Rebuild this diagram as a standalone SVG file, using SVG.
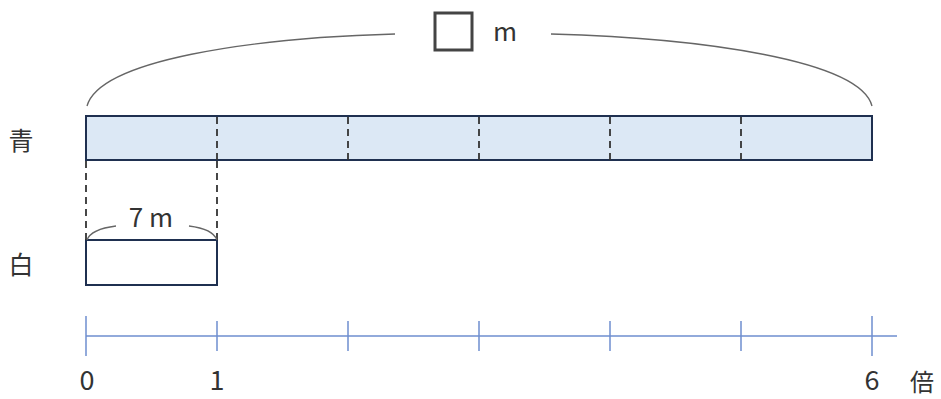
<svg xmlns="http://www.w3.org/2000/svg" width="941" height="399" viewBox="0 0 941 399">
<style>
.t{font-family:"Noto Sans CJK JP","Noto Sans",sans-serif;fill:#333;}
.bar{stroke:#1f3050;stroke-width:2;}
.dash{stroke:#333;stroke-width:1.8;stroke-dasharray:7,5;fill:none;}
.brace{stroke:#666;stroke-width:1.3;fill:none;}
.axis{stroke:#6f8fd0;stroke-width:1.5;fill:none;}
</style>
<rect width="941" height="399" fill="#fff"/>
<g id="blue">
<rect class="bar" x="86" y="116" width="786" height="44" fill="#dce8f5"/>
<text class="t" x="21" y="150" font-size="25" text-anchor="middle">青</text>
</g>
<g id="white">
<rect class="bar" x="86" y="240" width="131" height="45" fill="#fff"/>
<text class="t" x="21" y="274" font-size="25" text-anchor="middle">白</text>
</g>
<g id="connectors">
<path class="dash" d="M217 117V160M348 117V160M479 117V160M610 117V160M741 117V160"/>
<path class="dash" d="M86 161V240M217 161V240"/>
<path class="brace" d="M87 106C100 60 250 38 395 34M551 34C700 38 860 60 872 106"/>
<path class="brace" d="M87 240C90 232 100 228 116 226M189 226C205 228 214 232 217 240"/>
<path class="axis" d="M86 336H897M86 316V356M872 316V356M217 321V351M348 321V351M479 321V351M610 321V351M741 321V351"/>
</g>
<g id="labels">
<rect x="435" y="13" width="37" height="37" fill="none" stroke="#444" stroke-width="3"/>
<text class="t" x="505" y="41" font-size="26" text-anchor="middle">m</text>
<text class="t" x="151" y="227" font-size="26" text-anchor="middle">7 m</text>
<text class="t" x="87" y="390" font-size="27" text-anchor="middle">0</text>
<text class="t" x="217" y="390" font-size="27" text-anchor="middle">1</text>
<text class="t" x="872" y="390" font-size="27" text-anchor="middle">6</text>
<text class="t" x="922" y="391" font-size="24" text-anchor="middle">倍</text>
</g>
</svg>
